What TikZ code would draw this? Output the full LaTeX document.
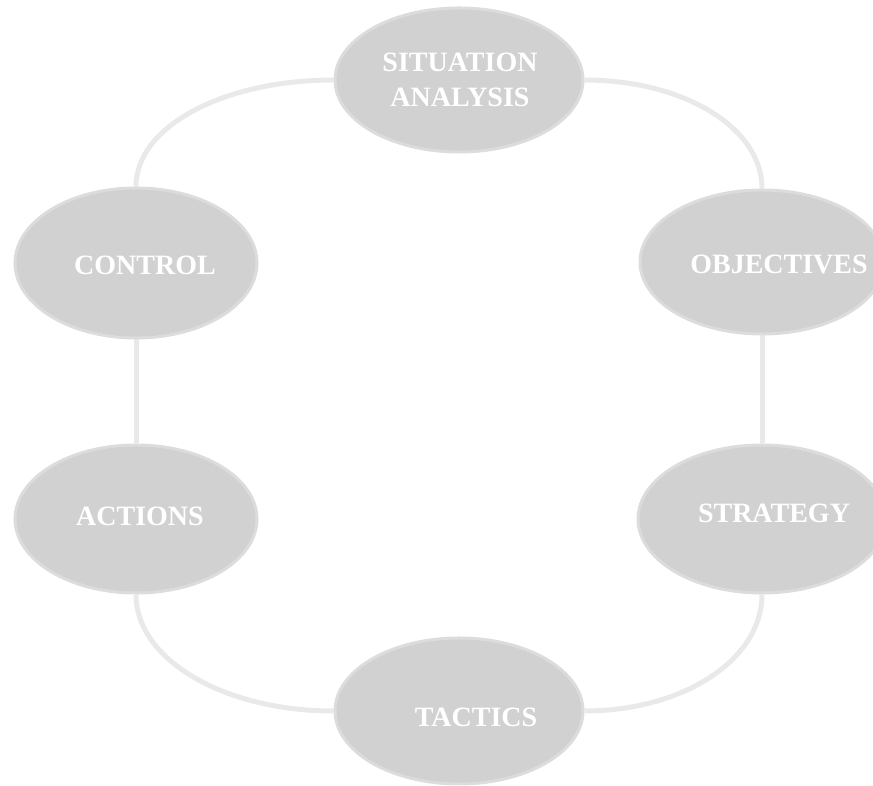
\documentclass[tikz,border=0pt]{standalone}
\usepackage{fontspec}
\setmainfont{Liberation Serif}
\usetikzlibrary{shapes.geometric,backgrounds}
\definecolor{ellfill}{HTML}{D1D1D1}
\definecolor{ellrim}{HTML}{DCDCDC}
\definecolor{linkcol}{HTML}{E9E9E9}
\begin{document}
\begin{tikzpicture}[x=1pt,y=1pt,
  blob/.style={ellipse, fill=ellfill, draw=ellrim, line width=3pt, inner sep=0pt},
  lbl/.style={text=white, font=\fontsize{28}{35}\selectfont\bfseries, align=center, inner sep=0pt},
  link/.style={draw=linkcol, line width=5pt}]
\useasboundingbox (0,0) rectangle (873,786);
% ellipses
\node[blob, minimum width=248pt, minimum height=144pt] (sit) at (459,706) {};
\node[blob, minimum width=242pt, minimum height=150pt] (ctl) at (136,523) {};
\node[blob, minimum width=244pt, minimum height=144pt] (obj) at (762,524) {};
\node[blob, minimum width=242pt, minimum height=148pt] (act) at (136,267) {};
\node[blob, minimum width=248pt, minimum height=148pt] (str) at (762,267) {};
\node[blob, minimum width=248pt, minimum height=146pt] (tac) at (459,75) {};
% labels
\node[lbl] (tsit) at (460,706) {SITUATION\\ANALYSIS};
\node[lbl] (tctl) at (145,521) {CONTROL};
\node[lbl] (tobj) at (779,522) {OBJECTIVES};
\node[lbl] (tact) at (140,270) {ACTIONS};
\node[lbl] (tstr) at (774,273) {STRATEGY};
\node[lbl] (ttac) at (476,69) {TACTICS};
% connectors
\begin{scope}[on background layer]
\draw[link] (ctl.north) .. controls +(0,60) and +(-110,0) .. (sit.west);
\draw[link] (sit.east) .. controls +(99,0) and +(0,61) .. (obj.north);
\draw[link] (obj.south) -- (str.north);
\draw[link] (str.south) .. controls +(0,-65) and +(99,0) .. (tac.east);
\draw[link] (tac.west) .. controls +(-110,0) and +(0,-65) .. (act.south);
\draw[link] (act.north) -- (ctl.south);
\end{scope}
\end{tikzpicture}
\end{document}
